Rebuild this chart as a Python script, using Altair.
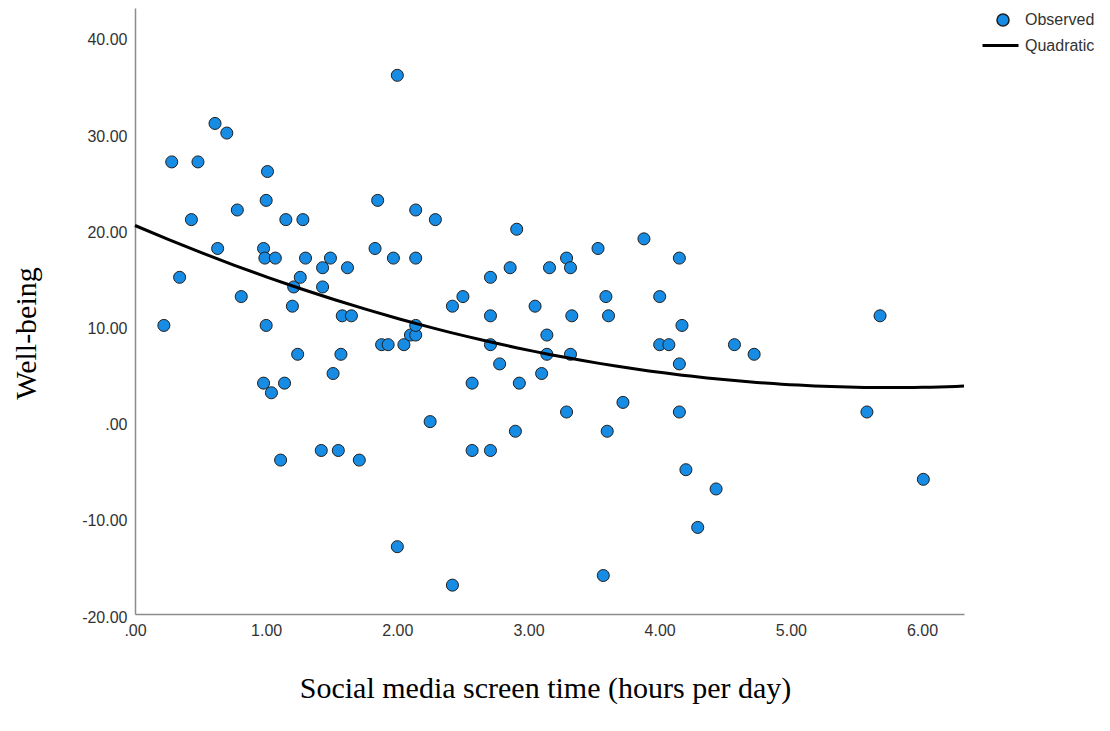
import altair as alt
import pandas as pd

# Social media screen time (hours per day)
hours = [0.22, 0.28, 0.34, 0.43, 0.48, 0.61, 0.63, 0.70, 0.78, 0.81,
         0.98, 0.99, 0.98, 1.00, 1.00, 1.01, 1.04, 1.07, 1.11, 1.14,
         1.15, 1.20, 1.21, 1.24, 1.26, 1.28, 1.30, 1.42, 1.43, 1.43,
         1.49, 1.51, 1.55, 1.57, 1.58, 1.62, 1.65, 1.71, 1.83, 1.85,
         1.88, 1.93, 1.97, 2.00, 2.00, 2.05, 2.10, 2.14, 2.14, 2.14,
         2.14, 2.25, 2.29, 2.42, 2.42, 2.50, 2.57, 2.57, 2.71, 2.71,
         2.71, 2.71, 2.78, 2.86, 2.90, 2.91, 2.93, 3.05, 3.10, 3.14,
         3.14, 3.16, 3.29, 3.29, 3.32, 3.33, 3.32, 3.53, 3.57, 3.59,
         3.60, 3.61, 3.72, 3.88, 4.00, 4.00, 4.07, 4.15, 4.15, 4.15,
         4.17, 4.20, 4.29, 4.43, 4.57, 4.72, 5.58, 5.68, 6.01]

# Well-being
wellbeing = [10, 27, 15, 21, 27, 31, 18, 30, 22, 13,
             18, 17, 4, 10, 23, 26, 3, 17, -4, 4,
             21, 12, 14, 7, 15, 21, 17, -3, 16, 14,
             17, 5, -3, 7, 11, 16, 11, -4, 18, 23,
             8, 8, 17, 36, -13, 8, 9, 9, 10, 22,
             17, 0, 21, 12, -17, 13, 4, -3, 15, 11,
             8, -3, 6, 16, -1, 20, 4, 12, 5, 9,
             7, 16, 17, 1, 16, 11, 7, 18, -16, 13,
             -1, 11, 2, 19, 13, 8, 8, 17, 6, 1,
             10, -5, -11, -7, 8, 7, 1, 11, -6]

x_ticks = [0, 1, 2, 3, 4, 5, 6]
y_ticks = [-20, -10, 0, 10, 20, 30, 40]
x_domain = [0, 6.32]
y_domain = [-20, 43]

df = pd.DataFrame({"hours": hours, "wellbeing": wellbeing})

blue = "#168ce5"
label_expr = "datum.value == 0 ? '.00' : datum.value + '.00'"

x_enc = alt.X("hours:Q",
              scale=alt.Scale(domain=x_domain, nice=False, zero=False),
              axis=alt.Axis(values=x_ticks, labelExpr=label_expr, labelFlush=False,
                            title="Social media screen time (hours per day)",
                            titleX=410, titleY=74, titleBaseline="middle",
                            titleAnchor="start", titleAlign="center"))
y_enc = alt.Y("wellbeing:Q",
              scale=alt.Scale(domain=y_domain, nice=False, zero=False),
              axis=alt.Axis(values=y_ticks, labelExpr=label_expr, labelFlush=False,
                            title="Well-being", titleX=-109, titleY=325,
                            titleBaseline="middle", titleAlign="center",
                            titleAngle=270, labelOffset=3))

points = alt.Chart(df).mark_point(
    filled=True, shape="circle", size=145, stroke="#1f1f1f", strokeWidth=1, opacity=1
).transform_calculate(series="'Observed'").encode(
    x=x_enc, y=y_enc,
    fill=alt.Fill("series:N", scale=alt.Scale(domain=["Observed"], range=[blue]),
                  legend=alt.Legend(title=None, orient="none", legendX=860, legendY=4,
                                    symbolSize=145, labelOffset=14, padding=0,
                                    symbolType="circle")),
)

curve = alt.Chart(df).transform_regression(
    "hours", "wellbeing", method="poly", order=2, extent=x_domain
).transform_calculate(series="'Quadratic'").mark_line(
    strokeWidth=3, color="black"
).encode(
    x="hours:Q", y="wellbeing:Q",
    stroke=alt.Stroke("series:N", scale=alt.Scale(domain=["Quadratic"], range=["black"]),
                      legend=alt.Legend(title=None, orient="none", legendX=846, legendY=18,
                                        symbolSize=1296, symbolStrokeWidth=3,
                                        labelOffset=5, padding=0, symbolType="stroke")),
)

chart = alt.layer(points, curve).properties(
    width=829, height=606,
    autosize=alt.AutoSizeParams(type="none"),
    padding={"left": 127, "top": 0, "right": 138, "bottom": 109},
).configure_view(stroke=None).configure_axis(
    grid=False, ticks=False, domainColor="#8c8c8c", domainWidth=1.5,
    labelFont="Liberation Sans", labelFontSize=16, labelColor="#333333",
    labelPadding=8,
    titleFont="Liberation Serif", titleFontSize=30, titleFontWeight="normal",
    titleColor="black",
).configure_legend(
    labelFont="Liberation Sans", labelFontSize=16, labelColor="#333333",
)

chart.save("out.html", embed_options={"renderer": "svg", "actions": False})
